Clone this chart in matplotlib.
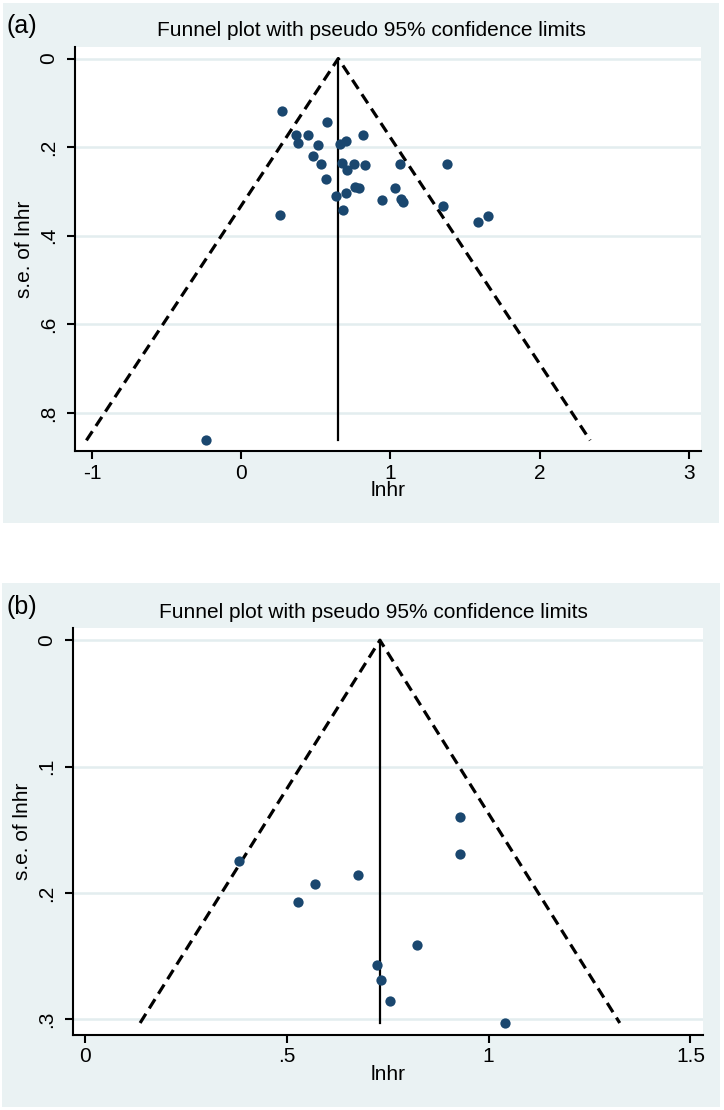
import numpy as np
import matplotlib
matplotlib.use('Agg')
import matplotlib.pyplot as plt
from matplotlib.patches import Rectangle

plt.rcParams['font.family'] = ['Liberation Sans', 'DejaVu Sans']

# panel (a) data: log hazard ratio vs standard error
lnhr_a = [0.272, 0.573, 0.365, 0.446, 0.817, 0.378, 0.511, 0.659, 0.700, 0.480,
          0.536, 0.672, 0.709, 0.755, 0.830, 1.065, 1.381, 0.570, 0.762, 0.786,
          1.028, 0.632, 0.703, 0.944, 1.074, 1.087, 1.350, 0.684, 0.257, 1.588,
          1.653, -0.235]
se_a = [0.118, 0.144, 0.172, 0.173, 0.172, 0.191, 0.195, 0.194, 0.186, 0.220,
        0.238, 0.236, 0.252, 0.238, 0.240, 0.239, 0.239, 0.273, 0.289, 0.292,
        0.292, 0.311, 0.304, 0.319, 0.317, 0.323, 0.332, 0.341, 0.354, 0.368,
        0.355, 0.862]
theta_a = 0.65

# panel (b) data
lnhr_b = [0.929, 0.929, 0.381, 0.677, 0.570, 0.528, 0.824, 0.724, 0.734, 0.756, 1.041]
se_b = [0.140, 0.169, 0.175, 0.186, 0.193, 0.207, 0.2415, 0.257, 0.269, 0.2855, 0.303]
theta_b = 0.731

yticks_a = [0, 0.2, 0.4, 0.6, 0.8]
ylabels_a = ['0', '.2', '.4', '.6', '.8']
xticks_a = [-1, 0, 1, 2, 3]
xlabels_a = ['-1', '0', '1', '2', '3']
yticks_b = [0, 0.1, 0.2, 0.3]
ylabels_b = ['0', '.1', '.2', '.3']
xticks_b = [0, 0.5, 1, 1.5]
xlabels_b = ['0', '.5', '1', '1.5']

W, H = 724, 1110
BG = '#EAF2F3'
NAVY = '#1A476F'

fig = plt.figure(figsize=(W / 100, H / 100), dpi=100)
fig.patch.set_facecolor('white')


def box(x0, y0, x1, y1):
    # pixel box (top-left origin) -> figure fraction
    return [x0 / W, 1 - y1 / H, (x1 - x0) / W, (y1 - y0) / H]


fig.patches.append(Rectangle((3 / W, 1 - 523 / H), 716 / W, 520 / H,
                             transform=fig.transFigure, facecolor=BG, edgecolor='none', zorder=-5))
fig.patches.append(Rectangle((2 / W, 1 - 1107 / H), 718 / W, 524 / H,
                             transform=fig.transFigure, facecolor=BG, edgecolor='none', zorder=-5))


def funnel(ax, x, se, theta, xlim, ylim, xt, xl, yt, yl):
    ax.set_facecolor('white')
    for v in yt:
        ax.axhline(v, color='#E3EDEF', linewidth=1.8, zorder=1)
    semax = max(se)
    ax.plot([theta - 1.96 * semax, theta, theta + 1.96 * semax], [semax, 0, semax],
            color='black', linestyle=(0, (3.4, 2.0)), linewidth=2.3, zorder=2)
    ax.plot([theta, theta], [0, semax], color='black', linewidth=1.6, zorder=2)
    ax.plot(x, se, 'o', color=NAVY, markersize=7.4, markeredgewidth=0, zorder=3)
    ax.set_xlim(*xlim)
    ax.set_ylim(*ylim)
    ax.set_xticks(xt)
    ax.set_xticklabels(xl)
    ax.set_yticks(yt)
    ax.set_yticklabels(yl, rotation=90, va='center')
    for s in ['top', 'right']:
        ax.spines[s].set_visible(False)
    for s in ['left', 'bottom']:
        ax.spines[s].set_linewidth(1.5)
    ax.tick_params(axis='both', which='major', length=6, width=1.5, labelsize=15)
    ax.tick_params(axis='y', pad=6)
    ax.tick_params(axis='x', pad=3)
    ax.set_xlabel('lnhr', fontsize=15, labelpad=-1)
    ax.set_ylabel('s.e. of lnhr', fontsize=15, labelpad=4)


ax1 = fig.add_axes(box(75, 47, 701, 451))
ax1.set_zorder(1)
funnel(ax1, lnhr_a, se_a, theta_a, (-1.116, 3.083), (0.886, -0.026),
       xticks_a, xlabels_a, yticks_a, ylabels_a)

ax2 = fig.add_axes(box(73, 628, 703, 1035))
ax2.set_zorder(1)
funnel(ax2, lnhr_b, se_b, theta_b, (-0.029, 1.531), (0.3125, -0.0097),
       xticks_b, xlabels_b, yticks_b, ylabels_b)

fig.text(371 / W, 1 - 31 / H, 'Funnel plot with pseudo 95% confidence limits',
         ha='center', va='center', fontsize=15)
fig.text(6 / W, 1 - 26 / H, '(a)', ha='left', va='center', fontsize=18)
fig.text(373 / W, 1 - 613 / H, 'Funnel plot with pseudo 95% confidence limits',
         ha='center', va='center', fontsize=15)
fig.text(6 / W, 1 - 607 / H, '(b)', ha='left', va='center', fontsize=18)

fig.savefig('out.png', dpi=100, facecolor=fig.get_facecolor())
plt.close(fig)
